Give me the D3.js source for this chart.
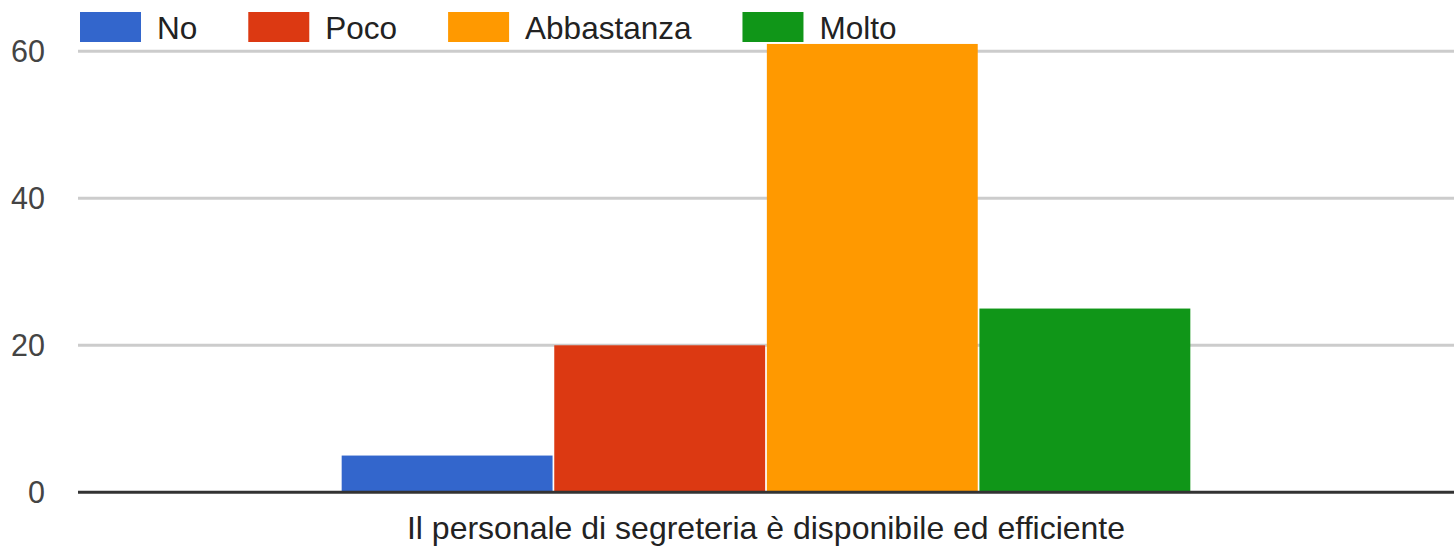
<!DOCTYPE html>
<html>
<head>
<meta charset="utf-8">
<script src="https://cdn.jsdelivr.net/npm/d3@7"></script>
<style>
  body { margin: 0; background: #fff; }
  text { font-family: Arial, "Liberation Sans", sans-serif; }
</style>
</head>
<body>
<script>
var category = "Il personale di segreteria è disponibile ed efficiente";
var series = ["No", "Poco", "Abbastanza", "Molto"];
var values = [5, 20, 61, 25];
var colors = ["#3366cc", "#dc3912", "#ff9900", "#109618"];
var yTicks = [0, 20, 40, 60];

var width = 1454, height = 553,
  margin = {top: 51.3, right: 0, bottom: 60.7, left: 78};

var svg = d3.select("body").append("svg")
  .attr("width", width)
  .attr("height", height);

var x0 = d3.scaleBand()
  .domain([category])
  .range([margin.left, width - margin.right])
  .paddingOuter(0.3107);

var x1 = d3.scaleBand()
  .domain(series)
  .range([0, x0.bandwidth()])
  .paddingInner(0.008);

var y = d3.scaleLinear()
  .domain([0, 60])
  .range([height - margin.bottom, margin.top]);

// gridlines
svg.append("g")
  .selectAll("line")
  .data(yTicks.filter(function (d) { return d > 0; }))
  .enter().append("line")
  .attr("x1", margin.left)
  .attr("x2", width - margin.right)
  .attr("y1", function (d) { return y(d); })
  .attr("y2", function (d) { return y(d); })
  .attr("stroke", "#cccccc")
  .attr("stroke-width", 3);

// y labels
svg.append("g")
  .selectAll("text")
  .data(yTicks)
  .enter().append("text")
  .attr("x", 45)
  .attr("y", function (d) { return y(d) + 11; })
  .attr("text-anchor", "end")
  .attr("font-size", 30.5)
  .attr("fill", "#444444")
  .text(function (d) { return d; });

// bars
var g = svg.append("g")
  .attr("transform", "translate(" + x0(category) + ",0)");

g.selectAll("rect")
  .data(series)
  .enter().append("rect")
  .attr("x", function (d) { return x1(d); })
  .attr("width", x1.bandwidth())
  .attr("y", function (d, i) { return y(values[i]); })
  .attr("height", function (d, i) { return y(0) - y(values[i]); })
  .attr("fill", function (d, i) { return colors[i]; });

// baseline
svg.append("line")
  .attr("x1", margin.left)
  .attr("x2", width - margin.right)
  .attr("y1", y(0))
  .attr("y2", y(0))
  .attr("stroke", "#333333")
  .attr("stroke-width", 3);

// x label
svg.append("text")
  .attr("x", x0(category) + x0.bandwidth() / 2)
  .attr("y", 539)
  .attr("text-anchor", "middle")
  .attr("font-size", 32)
  .attr("fill", "#222222")
  .text(category);

// legend
var lx = 80;
var legend = svg.append("g");
series.forEach(function (s, i) {
  legend.append("rect")
    .attr("x", lx)
    .attr("y", 12)
    .attr("width", 61)
    .attr("height", 30)
    .attr("fill", colors[i]);
  var t = legend.append("text")
    .attr("x", lx + 77)
    .attr("y", 39)
    .attr("font-size", 31.5)
    .attr("fill", "#222222")
    .text(s);
  lx += 77 + t.node().getComputedTextLength() + 51;
});
</script>
</body>
</html>
